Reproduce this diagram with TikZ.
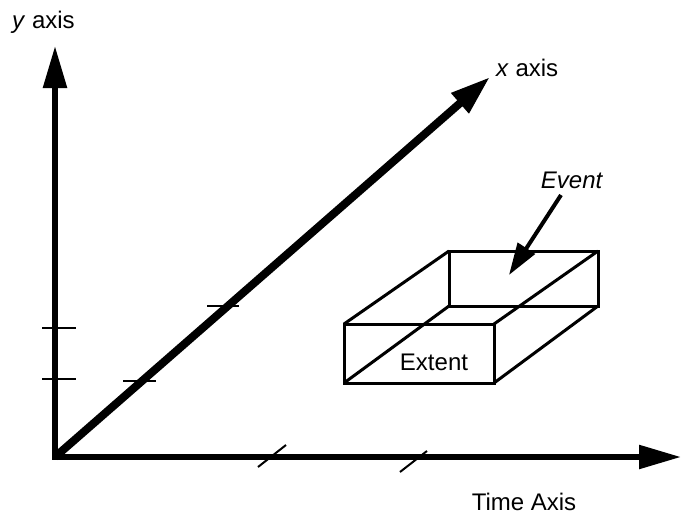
\documentclass[tikz,border=0pt]{standalone}
\usepackage{fontspec}
\setmainfont{Liberation Sans}
\usetikzlibrary{arrows.meta}
\begin{document}
\begin{tikzpicture}[x=1pt,y=-1pt,
  axis/.style={line width=5.5pt,-{Triangle[length=42pt,width=23pt]}},
  diag/.style={line width=8pt,-{Triangle[length=40pt,width=25pt]}},
  tick/.style={line width=2pt},
  edge/.style={line width=3pt,line join=miter},
  pointer/.style={line width=4pt,-{Triangle[length=32pt,width=20pt]}},
  lbl/.style={inner sep=0pt,font=\fontsize{24}{28}\selectfont}]
\useasboundingbox (0,0) rectangle (686,515);
% axes
\coordinate (O) at (55,457);
\coordinate (Y) at (55,46);
\coordinate (T) at (681,457);
\coordinate (X) at (490,77);
\draw[axis] (O) -- (Y);
\draw[axis] ([xshift=-2.75pt]O) -- (T);
\draw[diag,line cap=butt] (O) -- (X);
% ticks on y axis
\coordinate (ya1) at (42,328); \coordinate (ya2) at (76,328);
\coordinate (yb1) at (42,379); \coordinate (yb2) at (76,379);
\draw[tick] (ya1) -- (ya2);
\draw[tick] (yb1) -- (yb2);
% ticks on diagonal
\coordinate (da1) at (123,381); \coordinate (da2) at (156,381);
\coordinate (db1) at (207,306); \coordinate (db2) at (239,306);
\draw[tick] (da1) -- (da2);
\draw[tick] (db1) -- (db2);
% ticks on time axis
\coordinate (ta1) at (258,467); \coordinate (ta2) at (286,445);
\coordinate (tb1) at (400,472); \coordinate (tb2) at (427,451);
\draw[tick] (ta1) -- (ta2);
\draw[tick] (tb1) -- (tb2);
% box
\coordinate (FTL) at (344,324); \coordinate (FTR) at (494,324);
\coordinate (FBR) at (494,383); \coordinate (FBL) at (344,383);
\coordinate (BTL) at (449,251); \coordinate (BTR) at (598,251);
\coordinate (BBR) at (598,306); \coordinate (BBL) at (449,306);
\draw[edge] (FTL) -- (FTR) -- (FBR) -- (FBL) -- cycle;
\draw[edge] (BTL) -- (BTR) -- (BBR) -- (BBL) -- cycle;
\draw[edge] (FTL) -- (BTL);
\draw[edge] (FTR) -- (BTR);
\draw[edge] (FBR) -- (BBR);
\draw[edge] (FBL) -- (BBL);
% labels
\node[lbl,anchor=west] (ylab) at (12,22) {\textit{y} axis};
\node[lbl,anchor=west] (xlab) at (496,68) {\textit{x} axis};
\node[lbl] (tlab) at (524,502) {Time Axis};
\node[lbl] (ext) at (434,362) {Extent};
\node[lbl] (ev) at (572,180) {\textit{Event}};
\coordinate (evs) at (561,195);
\coordinate (evtip) at (509,275);
\draw[pointer] (evs) -- (evtip);
\end{tikzpicture}
\end{document}
